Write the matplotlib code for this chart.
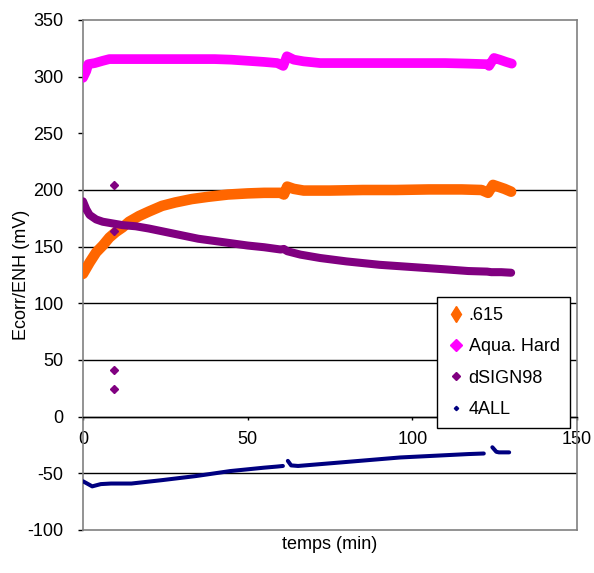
import numpy as np
import matplotlib
matplotlib.use("Agg")
import matplotlib.pyplot as plt
from matplotlib.lines import Line2D

plt.rcParams['font.family'] = ['Liberation Sans', 'DejaVu Sans']

# ---- data ----
t_615 = [0, 2, 4, 6, 8, 10, 12, 14, 17, 20, 24, 28, 33, 38, 44, 50, 55, 60, 61, 62, 64, 67, 75, 85, 95, 105, 115, 121, 123, 124.5, 126, 128, 130]
y_615 = [126, 136, 145, 151, 158, 163, 167, 172, 177, 181, 186, 189, 192, 194, 196, 197, 197.5, 197.5, 196, 203, 201, 199.5, 199.5, 200, 200, 200.5, 200.5, 200, 197.5, 204.5, 203, 201, 198.5]

t_aqua = [0, 1, 1.6, 3.6, 6, 8, 12, 20, 30, 40, 45, 50, 55, 59, 60.8, 61.9, 64, 67, 72, 80, 90, 100, 110, 117, 122.7, 123.3, 124.8, 126.5, 128.5, 130.2]
y_aqua = [299, 305, 311, 312, 314, 315.5, 315.5, 315.5, 315.5, 315.5, 315, 314, 313, 312, 309.5, 318, 315, 313.5, 312, 312, 312, 312, 312, 311.5, 311, 309.5, 316.5, 315, 313, 311.5]

t_dsign = [0, 1, 2, 4, 6, 9, 12, 16, 20, 25, 30, 35, 40, 45, 50, 55, 60, 61, 62, 66, 72, 80, 90, 100, 110, 117, 122.7, 124, 127, 130]
y_dsign = [190, 183, 178, 174, 172, 170.5, 169, 168, 166, 163, 160, 157, 155, 153, 151, 149.5, 147.5, 148, 146, 143, 140, 137, 134, 132, 130, 128.5, 128, 127.5, 127.5, 127]

t_dsign_out = [9.4, 9.4, 9.4, 9.4]
y_dsign_out = [204, 163.5, 41, 24]

t_4all = [0, 2.8, 5.4, 8.5, 14.7, 24, 34.3, 44.7, 55, 59, 60.7, np.nan, 62.2, 63.2, 65.3, 75.7, 86, 96.3, 106.7, 117, 121.7, np.nan, 124.3, 125.5, 126.3, 129.4]
y_4all = [-57, -61.5, -59.5, -59, -59, -56, -52.4, -48, -45, -44, -43.5, np.nan, -39, -43, -43.5, -41, -38.5, -36, -34.5, -33, -32.5, np.nan, -27, -31, -31.5, -31.5]

labels = ['.615', 'Aqua. Hard', 'dSIGN98', '4ALL']
colors = ['#FF6600', '#FF00FF', '#800080', '#000080']

x_ticks = [0, 50, 100, 150]
y_ticks = [-100, -50, 0, 50, 100, 150, 200, 250, 300, 350]
grid_vals = [-50, 0, 50, 100, 150, 200]

FS = 13

# ---- figure ----
W, H = 594, 573
fig = plt.figure(figsize=(W / 100, H / 100), dpi=100)
ax = fig.add_axes([83 / W, 43 / H, 494 / W, 510 / H])
ax.set_xlim(0, 150)
ax.set_ylim(-100, 350)

gray = '#808080'
for s in ['left', 'right', 'top']:
    ax.spines[s].set_color(gray)
    ax.spines[s].set_linewidth(1.2)
ax.spines['bottom'].set_position(('data', 0))
ax.spines['bottom'].set_color('black')
ax.spines['bottom'].set_linewidth(1.0)
ax.plot([0, 150], [-100, -100], color=gray, lw=1.2, clip_on=False, zorder=3)

for v in grid_vals:
    ax.axhline(v, color='black', lw=1.0, zorder=1)

ax.set_xticks(x_ticks)
ax.set_xticklabels([str(v) for v in x_ticks])
ax.set_yticks(y_ticks)
ax.set_yticklabels([str(v) for v in y_ticks])
ax.tick_params(axis='x', direction='out', length=2.5, width=1, color='black',
               labelsize=FS, pad=8)
ax.tick_params(axis='y', direction='out', length=3.6, width=1, color='black',
               labelsize=FS, pad=10.5)

# series
ax.plot(t_615, y_615, color=colors[0], lw=7.6, solid_capstyle='round',
        solid_joinstyle='round', zorder=4)
ax.plot(t_aqua, y_aqua, color=colors[1], lw=7.0, solid_capstyle='round',
        solid_joinstyle='round', zorder=4)
ax.plot(t_dsign, y_dsign, color=colors[2], lw=5.8, solid_capstyle='round',
        solid_joinstyle='round', zorder=5)
ax.plot(t_dsign_out, y_dsign_out, linestyle='None', marker='D', markersize=4,
        color=colors[2], zorder=5)
ax.plot(t_4all, y_4all, color=colors[3], lw=2.9, solid_capstyle='round',
        solid_joinstyle='round', zorder=5)

ax.set_xlabel('temps (min)', fontsize=FS)
ax.xaxis.set_label_coords(0.5, -0.012)
ax.xaxis.label.set_va('top')
ax.set_ylabel('Ecorr/ENH (mV)', fontsize=FS)
ax.yaxis.set_label_coords(-0.108, 0.5)

handles = [
    Line2D([], [], linestyle='None', marker='d', markersize=8, color=colors[0]),
    Line2D([], [], linestyle='None', marker='D', markersize=6, color=colors[1]),
    Line2D([], [], linestyle='None', marker='D', markersize=4, color=colors[2]),
    Line2D([], [], linestyle='None', marker='D', markersize=2.2, color=colors[3]),
]
leg = ax.legend(handles, labels, loc='upper left',
                bbox_to_anchor=(0.7166, 0.457), borderaxespad=0,
                fontsize=FS, frameon=True, fancybox=False, framealpha=1,
                edgecolor='black', handlelength=1.0, handletextpad=0.2,
                labelspacing=0.8, borderpad=0.55)
leg.get_frame().set_linewidth(1.0)
leg.set_zorder(10)

fig.savefig('out.png', dpi=100)
